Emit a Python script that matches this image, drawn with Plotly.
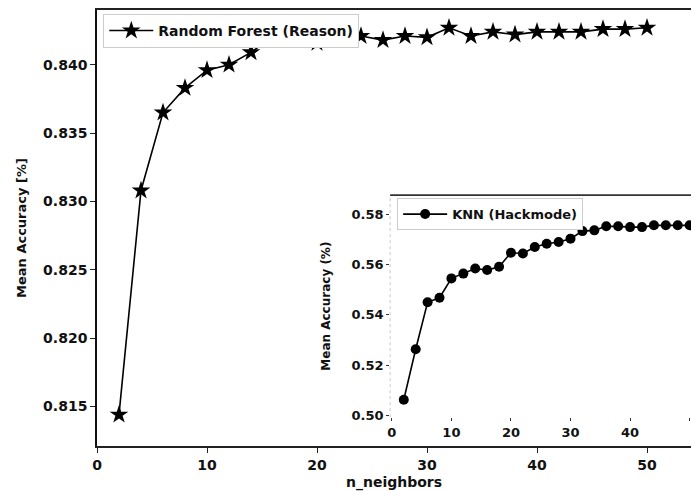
import plotly.graph_objects as go

# n_neighbors swept from 2 to 50 in steps of 2
n_neighbors = [2, 4, 6, 8, 10, 12, 14, 16, 18, 20, 22, 24, 26,
               28, 30, 32, 34, 36, 38, 40, 42, 44, 46, 48, 50]

# Mean accuracy of the Random Forest model (Reason)
rf_acc = [0.8144, 0.8308, 0.8365, 0.8383, 0.8396, 0.8400, 0.8409,
          0.8421, 0.8421, 0.8416, 0.8419, 0.8421, 0.8418, 0.8421,
          0.8420, 0.8427, 0.8421, 0.8424, 0.8422, 0.8424, 0.8424,
          0.8424, 0.8426, 0.8426, 0.8427]

# Mean accuracy of the KNN model (Hackmode)
knn_acc = [0.5062, 0.5263, 0.5450, 0.5468, 0.5545, 0.5564, 0.5584,
           0.5578, 0.5591, 0.5647, 0.5644, 0.5670, 0.5683, 0.5690,
           0.5703, 0.5733, 0.5736, 0.5752, 0.5752, 0.5749, 0.5749,
           0.5756, 0.5756, 0.5756, 0.5756]

FONT = "DejaVu Sans"
INK = "#111111"

fig = go.Figure()

fig.add_trace(go.Scatter(
    x=n_neighbors, y=rf_acc, mode="lines+markers",
    name="Random Forest (Reason)", showlegend=True,
    line=dict(color="black", width=1.6),
    marker=dict(symbol="star", size=14, color="black"),
    xaxis="x", yaxis="y", legend="legend",
))

fig.add_trace(go.Scatter(
    x=n_neighbors, y=knn_acc, mode="lines+markers",
    name="KNN (Hackmode)", showlegend=True,
    line=dict(color="black", width=1.6),
    marker=dict(symbol="circle", size=10, color="black"),
    xaxis="x2", yaxis="y2", legend="legend2",
))

tick_main = dict(family=FONT, size=14, color=INK, weight="bold")
tick_inset = dict(family=FONT, size=13, color=INK, weight="bold")

fig.update_layout(
    width=691, height=491, autosize=False, showlegend=True,
    margin=dict(l=97, r=0, t=10, b=43),
    paper_bgcolor="white", plot_bgcolor="white",
    font=dict(family=FONT, color=INK),
    xaxis=dict(
        domain=[0, 1], range=[0, 54], dtick=10,
        showline=True, linecolor="#222222", linewidth=1.8, mirror=True,
        ticks="outside", ticklen=5, tickcolor="#222222", tickwidth=1.2,
        showgrid=False, zeroline=False, tickfont=tick_main,
        title=dict(text="n_neighbors", standoff=8,
                   font=dict(family=FONT, size=14, color=INK, weight="bold")),
    ),
    yaxis=dict(
        domain=[0, 1], range=[0.81211, 0.8440], dtick=0.005, tickformat=".3f",
        showline=True, linecolor="#111111", linewidth=1.6, mirror=False,
        ticks="outside", ticklen=5, tickcolor="#222222", tickwidth=1.2,
        showgrid=False, zeroline=False, tickfont=tick_main,
        title=dict(text="Mean Accuracy [%]", standoff=14,
                   font=dict(family=FONT, size=13, color=INK, weight="bold")),
    ),
    xaxis2=dict(
        anchor="y2", domain=[0.4935, 1], range=[-0.29, 50.23], dtick=10,
        showline=False, ticks="outside", ticklen=3, tickcolor="#333333",
        tickwidth=1.2, showgrid=False, zeroline=False, tickfont=tick_inset,
    ),
    yaxis2=dict(
        anchor="x2", domain=[0.0662, 0.5753], range=[0.4993, 0.5876],
        dtick=0.02, tickformat=".2f",
        showline=False, ticks="outside", ticklen=3, tickcolor="#333333",
        tickwidth=1.2, showgrid=False, zeroline=False, tickfont=tick_inset,
        title=dict(text="Mean Accuracy (%)", standoff=18,
                   font=dict(family=FONT, size=12, color=INK, weight="bold")),
    ),
    legend=dict(
        visible=True,
        x=0.0106, y=0.991, xanchor="left", yanchor="top",
        bgcolor="white", bordercolor="#cccccc", borderwidth=1,
        font=dict(family=FONT, size=14, color=INK, weight="bold"),
        itemwidth=44, tracegroupgap=0,
    ),
    legend2=dict(
        visible=True,
        x=0.5053, y=0.5685, xanchor="left", yanchor="top",
        bgcolor="white", bordercolor="#cccccc", borderwidth=1,
        font=dict(family=FONT, size=13, color=INK, weight="bold"),
        itemwidth=44, tracegroupgap=0,
    ),
    shapes=[
        # inset frame: solid top edge, faint dotted left edge
        dict(type="line", xref="x2 domain", yref="y2 domain",
             x0=0, x1=1, y0=1, y1=1,
             line=dict(color="#333333", width=1.8)),
        dict(type="line", xref="x2 domain", yref="y2 domain",
             x0=0, x1=0, y0=0, y1=1,
             line=dict(color="#c8c8c8", width=1, dash="dot")),
    ],
)

fig.write_html("out.html")
